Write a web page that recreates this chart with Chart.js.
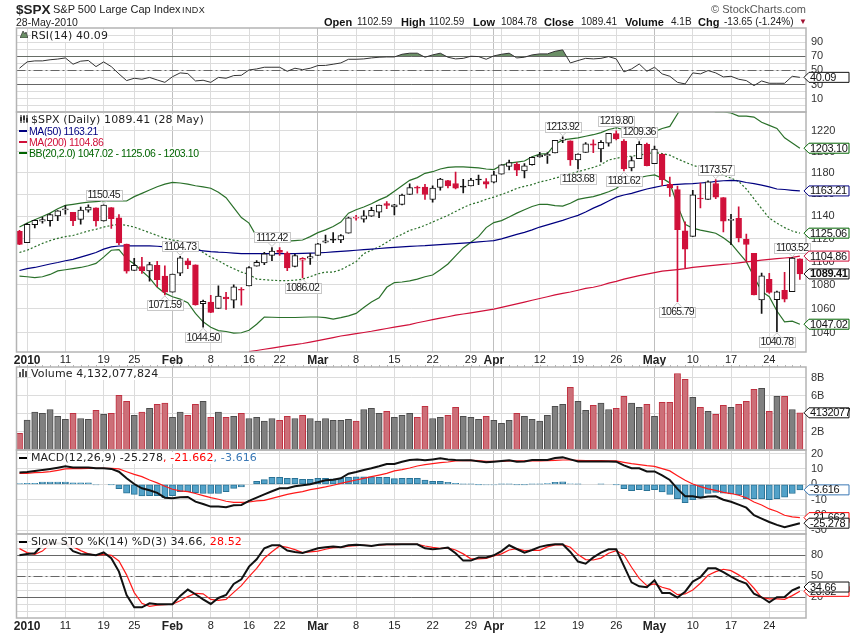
<!DOCTYPE html>
<html>
<head>
<meta charset="utf-8">
<title>$SPX</title>
<script src="https://cdn.jsdelivr.net/npm/chart.js@4"></script>
<style>
  html, body { margin: 0; padding: 0; background: #fff; overflow: hidden; width: 850px; height: 633px; }
  canvas { position: absolute; left: 0; }
  .txt { position: absolute; white-space: nowrap; font-family: "Liberation Sans", Arial, sans-serif; color: #222; line-height: 12px; z-index: 5; }
  .leg { font-family: "DejaVu Sans", sans-serif; font-size: 11px; letter-spacing: 0.12px; background: rgba(255,255,255,0.9); }
  .ma { font-size: 10.5px; letter-spacing: -0.4px; background: rgba(255,255,255,0.85); }
  .sw { position: absolute; left: 19px; width: 8px; height: 2px; z-index: 6; }
  .icon { position: absolute; z-index: 6; }
  b { color: #111; }
</style>
</head>
<body>
<div class="txt" style="left:16px;top:3px;font-size:13.5px;font-weight:900;line-height:13px">$SPX</div>
<div class="txt" style="left:53px;top:3px;font-size:11px">S&amp;P 500 Large Cap Index</div>
<div class="txt" style="left:182px;top:4px;font-size:9px;letter-spacing:0.4px">INDX</div>
<div class="txt" style="left:16px;top:16px;font-size:10.5px">28-May-2010</div>
<div class="txt" style="right:44px;top:3px;font-size:11px;color:#555">© StockCharts.com</div>
<div class="txt" style="left:324px;top:16px;font-size:11px"><b>Open</b></div>
<div class="txt" style="left:357px;top:16px;font-size:10px">1102.59</div>
<div class="txt" style="left:401px;top:16px;font-size:11px"><b>High</b></div>
<div class="txt" style="left:429px;top:16px;font-size:10px">1102.59</div>
<div class="txt" style="left:473px;top:16px;font-size:11px"><b>Low</b></div>
<div class="txt" style="left:501px;top:16px;font-size:10px">1084.78</div>
<div class="txt" style="left:544px;top:16px;font-size:11px"><b>Close</b></div>
<div class="txt" style="left:581px;top:16px;font-size:10px">1089.41</div>
<div class="txt" style="left:625px;top:16px;font-size:11px"><b>Volume</b></div>
<div class="txt" style="left:671px;top:16px;font-size:10px">4.1B</div>
<div class="txt" style="left:698px;top:16px;font-size:11px"><b>Chg</b></div>
<div class="txt" style="left:724px;top:16px;font-size:10px">-13.65 (-1.24%)</div>
<div class="txt" style="left:799px;top:16px;font-size:8px;color:#a01030">▼</div>

<svg class="icon" style="left:20px;top:30px" width="8" height="8"><path d="M0 8 L3 1 L5 4 L6 2 L8 8 Z" fill="#6b8f66" stroke="#333" stroke-width="0.7"/></svg>
<div class="txt leg" style="left:31px;top:30px">RSI(14) 40.09</div>
<svg class="icon" style="left:20px;top:115px" width="8" height="8"><path d="M1 0V8M4 0V8M7 0V8" stroke="#111" stroke-width="1"/><path d="M0 2H2V6H0ZM3 1H5V5H3ZM6 3H8V7H6Z" fill="#333"/></svg>
<div class="txt leg" style="left:31px;top:114px">$SPX (Daily) 1089.41 (28 May)</div>
<div class="sw" style="top:130px;background:#000080"></div>
<div class="txt ma" style="left:29px;top:125px;color:#000080">MA(50) 1163.21</div>
<div class="sw" style="top:141px;background:#d0103a"></div>
<div class="txt ma" style="left:29px;top:136px;color:#d0103a">MA(200) 1104.86</div>
<div class="sw" style="top:152px;background:#006400"></div>
<div class="txt ma" style="left:29px;top:147px;color:#006400">BB(20,2.0) 1047.02 - 1125.06 - 1203.10</div>
<svg class="icon" style="left:19px;top:369px" width="9" height="8"><path d="M0 3H2V8H0ZM3 0H5V8H3ZM6 2H8V8H6Z" fill="#555"/></svg>
<div class="txt leg" style="left:31px;top:368px">Volume 4,132,077,824</div>
<div class="sw" style="top:457px;background:#000"></div>
<div class="txt leg" style="left:31px;top:452px">MACD(12,26,9) -25.278<span style="color:#f00">, -21.662</span><span style="color:#3a78b5">, -3.616</span></div>
<div class="sw" style="top:541px;background:#000"></div>
<div class="txt leg" style="left:31px;top:536px">Slow STO %K(14) %D(3) 34.66, <span style="color:#f00">28.52</span></div>

<canvas id="rsiChart"></canvas>
<canvas id="priceChart"></canvas>
<canvas id="volumeChart"></canvas>
<canvas id="macdChart"></canvas>
<canvas id="stoChart"></canvas>

<script>
// Trading days shown on the chart
const dates = ['Dec 31',
  'Jan 4','Jan 5','Jan 6','Jan 7','Jan 8','Jan 11','Jan 12','Jan 13','Jan 14','Jan 15','Jan 19','Jan 20','Jan 21','Jan 22','Jan 25','Jan 26','Jan 27','Jan 28','Jan 29',
  'Feb 1','Feb 2','Feb 3','Feb 4','Feb 5','Feb 8','Feb 9','Feb 10','Feb 11','Feb 12','Feb 16','Feb 17','Feb 18','Feb 19','Feb 22','Feb 23','Feb 24','Feb 25','Feb 26',
  'Mar 1','Mar 2','Mar 3','Mar 4','Mar 5','Mar 8','Mar 9','Mar 10','Mar 11','Mar 12','Mar 15','Mar 16','Mar 17','Mar 18','Mar 19','Mar 22','Mar 23','Mar 24','Mar 25','Mar 26','Mar 29','Mar 30','Mar 31',
  'Apr 1','Apr 5','Apr 6','Apr 7','Apr 8','Apr 9','Apr 12','Apr 13','Apr 14','Apr 15','Apr 16','Apr 19','Apr 20','Apr 21','Apr 22','Apr 23','Apr 26','Apr 27','Apr 28','Apr 29','Apr 30',
  'May 3','May 4','May 5','May 6','May 7','May 10','May 11','May 12','May 13','May 14','May 17','May 18','May 19','May 20','May 21','May 24','May 25','May 26','May 27','May 28'];

// X axis ticks
const tickDates = ['Jan 4','Jan 11','Jan 19','Jan 25','Feb 1','Feb 8','Feb 16','Feb 22','Mar 1','Mar 8','Mar 15','Mar 22','Mar 29','Apr 1','Apr 5','Apr 12','Apr 19','Apr 26','May 3','May 10','May 17','May 24'];
const tickLabels = ['2010','11','19','25','Feb','8','16','22','Mar','8','15','22','29','Apr','','12','19','26','May','10','17','24'];
const monthTicks = ['2010','Feb','Mar','Apr','May'];

// Price candles
const opens = [1126.60,1116.56,1132.66,1135.71,1136.27,1140.52,1145.96,1143.81,1137.31,1145.68,1147.72,1136.03,1147.95,1138.68,1115.49,1092.40,1095.80,1091.94,1096.93,1087.61,
  1073.89,1090.05,1100.67,1097.25,1064.12,1065.51,1060.06,1069.68,1067.10,1075.95,1079.13,1096.14,1099.03,1105.49,1110.00,1107.49,1095.89,1101.24,1103.10,
  1105.36,1117.01,1119.36,1119.12,1125.12,1138.40,1137.56,1140.22,1143.96,1151.71,1148.53,1150.83,1159.94,1166.13,1166.68,1155.35,1166.47,1172.70,1170.03,1167.58,1167.71,1173.75,1171.75,
  1171.23,1178.71,1186.01,1188.23,1181.75,1187.47,1194.94,1195.94,1198.69,1210.77,1210.17,1192.06,1199.04,1207.16,1202.52,1207.87,1217.07,1209.92,1184.59,1193.30,1206.77,
  1188.58,1197.50,1169.24,1164.38,1127.04,1122.27,1156.39,1155.43,1170.04,1157.19,1136.52,1138.21,1119.57,1107.34,1067.26,1084.78,1067.42,1075.51,1074.27,1102.59];
const highs = [1127.64,1133.87,1136.63,1139.19,1142.46,1145.39,1149.74,1143.81,1148.40,1150.41,1147.77,1150.45,1147.95,1141.58,1115.49,1102.97,1103.69,1099.51,1100.22,1096.45,
  1089.38,1104.73,1102.72,1097.25,1067.13,1071.20,1079.28,1073.67,1080.04,1077.81,1095.67,1101.03,1108.24,1112.42,1112.29,1108.58,1106.42,1103.50,1107.24,
  1116.11,1123.46,1125.64,1123.73,1139.38,1141.05,1145.37,1148.26,1150.24,1153.41,1150.98,1160.28,1169.84,1167.77,1169.20,1167.82,1174.72,1173.04,1180.69,1173.93,1174.85,1177.83,1174.56,
  1181.43,1187.73,1191.80,1189.60,1188.55,1194.66,1199.20,1199.04,1210.65,1213.92,1210.17,1197.87,1208.58,1210.99,1210.27,1217.28,1219.80,1211.38,1195.05,1209.36,1207.99,
  1205.13,1197.50,1175.95,1167.58,1135.13,1163.85,1170.48,1172.58,1173.57,1157.19,1141.88,1148.66,1124.27,1107.34,1090.16,1089.95,1074.75,1090.75,1103.52,1102.59];
const lows = [1114.81,1116.56,1129.66,1133.95,1131.32,1136.22,1142.02,1131.77,1133.18,1143.80,1131.39,1135.77,1129.25,1114.84,1090.18,1092.40,1089.86,1083.11,1078.46,1071.59,
  1073.89,1087.96,1093.97,1062.78,1044.50,1056.51,1060.06,1059.34,1060.59,1062.97,1079.13,1096.14,1097.48,1100.80,1105.38,1092.18,1095.50,1086.02,1097.56,
  1105.36,1116.51,1116.58,1116.66,1125.12,1136.77,1134.90,1140.09,1138.99,1146.97,1141.45,1150.35,1159.94,1161.16,1155.33,1152.88,1163.83,1166.01,1165.09,1161.48,1167.71,1168.92,1165.77,
  1170.69,1178.71,1182.77,1177.25,1175.12,1187.15,1194.71,1188.82,1198.69,1208.50,1186.77,1183.68,1199.04,1198.85,1190.19,1205.10,1211.07,1181.62,1181.81,1193.30,1186.32,
  1188.58,1168.12,1158.15,1065.79,1094.15,1122.27,1147.71,1155.43,1156.14,1126.14,1114.96,1117.20,1100.66,1071.58,1055.90,1072.70,1040.78,1065.59,1074.27,1084.78];
const closes = [1115.10,1132.99,1136.52,1137.14,1141.69,1144.98,1146.98,1136.22,1145.68,1148.46,1136.03,1150.23,1138.04,1116.48,1091.76,1096.78,1092.17,1097.50,1084.53,1073.87,
  1089.19,1103.32,1097.28,1063.11,1066.19,1056.74,1070.52,1068.13,1078.47,1075.51,1094.87,1099.51,1106.75,1109.17,1108.01,1094.60,1105.24,1102.94,1104.49,
  1115.71,1118.31,1118.79,1122.97,1138.70,1138.50,1140.45,1145.61,1150.24,1149.99,1150.51,1159.46,1166.21,1165.83,1159.90,1165.81,1174.17,1167.72,1165.73,1166.59,1173.22,1173.27,1169.43,
  1178.10,1187.44,1189.44,1182.45,1186.44,1194.37,1196.48,1197.30,1210.65,1211.67,1192.13,1197.52,1207.17,1205.94,1208.67,1217.28,1212.05,1183.71,1191.36,1206.78,1186.69,
  1202.26,1173.60,1165.87,1128.15,1110.88,1159.73,1155.79,1171.67,1157.44,1135.68,1136.94,1120.80,1115.05,1071.59,1087.69,1073.65,1074.03,1067.95,1103.06,1089.41];
const closeBeforeFirst = 1126.20;

// Price overlays
const ma50 = [1092.4,1094,1095,1096.5,1098,1099.3,1100.8,1102,1104,1106,1108,1111,1113,1113.7,1113.8,1113.9,1113.9,1113.8,1113.5,1113,
  1112.5,1112,1111.5,1110.3,1109.5,1108.8,1108.3,1108,1107.5,1107,1107,1107,1107,1107,1107,1107.1,1107.1,1107.2,1107.4,
  1107.6,1108,1108.5,1109,1109.5,1110,1110.5,1111,1111.5,1112,1112.5,1113,1113.4,1113.7,1114,1114.5,1115,1115.4,1115.8,1116.2,1116.7,1117.3,1117.9,
  1118.5,1120,1122,1124,1125.8,1128,1130.5,1132.5,1134.5,1136.5,1138.8,1141,1144,1147.5,1150.5,1154,1157.5,1159.5,1161,1163,1165,
  1166.5,1168,1168.7,1169.2,1169.7,1170,1170.5,1171,1172,1172.6,1173,1172.5,1171,1170,1168.5,1167,1165,1164.5,1163.8,1163.21];
const ma200 = [null,null,null,null,null,null,null,null,null,null,null,null,null,null,null,null,null,null,null,null,
  null,null,null,null,null,null,null,null,null,null,1024.6,1025.5,1026.5,1027.5,1028.5,1029.5,1030.3,1031.2,1032.3,
  1033.5,1034.7,1036,1037.3,1038.3,1039.2,1040.2,1041.2,1042.4,1043.5,1044.6,1045.7,1046.7,1048.2,1049.5,1050.8,1052,1053.2,1054.5,1055.5,1056.5,1057.5,1058.5,
  1059.5,1061,1062.5,1064,1065.5,1067,1068.5,1070,1071.5,1072.8,1074,1075.5,1077,1078,1079.5,1081.5,1083,1085,1086.5,1088,1089.2,
  1090.5,1091.8,1092.5,1093.2,1094,1095,1095.7,1096.3,1097,1097.6,1098.2,1099,1099.8,1100.5,1101.3,1102,1102.6,1103.2,1103.8,1104.86];
const bbUpper = [1130.5,1134,1137,1140,1143,1147,1150,1151,1152,1153,1153.5,1154,1154,1154,1154,1158,1161,1164,1167,1169.5,
  1171,1170.5,1169.5,1168,1167,1165.7,1162,1157,1148,1139,1134,1122,1118,1117.5,1117.5,1118,1118.5,1119,1122,
  1125.5,1128,1131,1135,1143,1146,1148.5,1151.5,1155,1158,1163,1168,1173,1175.5,1179.5,1181,1183.5,1185,1185.5,1185.5,1185,1184.5,1183.5,
  1183,1187,1189,1190,1191,1195,1197.5,1198,1207,1211,1212,1213,1214.5,1216,1218,1221,1222.5,1221,1219,1218,1217.5,
  1219,1222,1224,1236,1248,1254,1250,1241,1238,1238,1237,1234,1234,1233,1228,1225,1222,1213,1208,1203.1];
const bbMiddle = [1108,1110,1113,1116,1118.5,1120.5,1122,1123,1125,1127,1128.5,1130.5,1132,1133,1132,1130.5,1128,1125.5,1123,1120.5,
  1119,1118,1116,1113,1108,1104,1101,1097,1094,1091,1089,1085,1084.5,1084,1083.7,1083.7,1084,1085,1087,
  1089.5,1091,1091,1093,1096.5,1100,1107,1110,1113,1117,1121,1124,1127.5,1129.5,1132,1135,1138,1141,1144.5,1148,1151,1153,1155.5,
  1157.5,1160,1162.5,1165.5,1167.5,1169,1171.5,1173,1175,1177,1179,1181,1183,1185,1187.5,1192,1193.5,1195,1195.5,1196.5,1198,
  1199,1198,1196.5,1193,1190,1187,1185,1182.5,1180,1178,1175,1172,1165,1156,1147,1138.5,1134,1130,1127,1125.06];
const bbLower = [1087.5,1087,1086.3,1087,1089,1092,1093,1094,1095,1096.5,1098.5,1104,1110,1110.5,1102.5,1098,1092,1086,1078,1073,
  1070,1068,1065,1056,1049,1044.5,1041.8,1041,1039.7,1040,1042,1047,1053,1052.8,1052.6,1052.6,1052.6,1052.8,1053,
  1053,1052.5,1051.2,1052.5,1054,1056,1061,1065.5,1069,1078,1082,1082.5,1083.5,1085,1087,1088.5,1093,1098,1105,1112,1117,1122,1130,
  1134.5,1136.3,1139.5,1143,1146,1149,1151,1151,1149.8,1149.4,1152,1155.5,1156.8,1158,1160,1162.5,1165.5,1171,1173,1175.5,1177,
  1178,1175,1170.5,1150,1133,1129.5,1127.8,1126.5,1125,1121,1116,1108,1100,1087,1074.5,1070,1058,1049,1049.5,1047.02];

// Peak and trough labels on the price panel
const calloutDates = ['Jan 19','Feb 2','Feb 19','Apr 15','Apr 29','Apr 26','May 13','May 27','Jan 29','Feb 5','Feb 25','Apr 19','Apr 27','May 6','May 25'];
const calloutValues = [1150.45,1104.73,1112.42,1213.92,1209.36,1219.80,1173.57,1103.52,1071.59,1044.50,1086.02,1183.68,1181.62,1065.79,1040.78];
const calloutAbove = [true,true,true,true,true,true,true,true,false,false,false,false,false,false,false];

// Indicators
const rsi = [53,62,63.4,63.4,65,66,67.6,58.7,63,64,55.3,62,55.3,45,35.5,38.8,37.4,40,36.4,33,
  41,46.4,45.4,35,36,33,40,38.8,42.6,43,50.6,52,54.4,54.4,54.4,48.7,53,51,53,
  56.8,57,58.7,60.5,65.7,65.7,66.2,67.6,68.6,69,69,72.8,74.3,74.3,68.6,71.9,74.3,68.6,66.2,67,70,69.5,65.7,
  70.5,72.8,74.3,67.6,68.6,71.9,73.3,73.3,77,79,60.5,63.9,67,66.2,67,69.5,66.2,47.8,52,59,48.7,
  54.4,45,41.6,33,30.8,46.4,45,49.7,46.4,40.7,41.6,37.4,35.5,28.4,35,31.7,31.7,31.7,41.6,40.09];
const volume = [1.85,3.33,4.2,4.07,4.5,3.74,3.4,4.07,3.5,3.4,4.4,3.96,4.07,6.07,5.4,3.85,4.2,4.63,5.07,5.2,
  3.63,4.2,3.85,5.07,5.4,3.63,4.2,3.63,3.74,4.07,3.5,3.63,3.2,3.5,3.3,3.74,3.5,3.85,3.5,
  3.2,3.5,3.3,3.3,3.4,3.2,4.5,4.63,4.07,4.3,3.63,3.85,4.07,3.63,4.85,3.5,3.63,3.85,4.74,3.74,3.63,3.4,3.74,
  3.3,2.96,3.3,4.07,3.74,3.4,3.2,3.85,4.85,5.07,6.96,5.4,4.4,4.96,5.2,4.5,4.63,5.96,5.2,4.74,5.07,
  3.74,5.3,5.3,8.5,7.85,5.85,4.74,4.3,3.96,4.96,4.74,5.07,5.4,6.74,6.85,4.3,5.96,5.96,4.5,4.13];
const macdLine = [7.6,8,8.7,9.3,10,10.8,11.7,11,11,11,10.4,10.4,10,8.2,3.9,0.2,-2.6,-3.9,-5.6,-8.7,
  -9.1,-8.4,-8.2,-11.3,-12.8,-14.5,-14.5,-14.9,-13.6,-13.4,-10.8,-8.7,-6.5,-4.5,-2.6,-2.6,-1.3,-0.6,0,
  1.3,2.6,3,3.9,6.9,8,9.3,10.4,11.7,13.2,13.2,14.7,15.8,16.2,15.6,16.2,16.9,16.2,15.8,15.6,15.6,14.9,14.3,
  14.7,15.2,15.6,14.7,14.9,15.8,15.8,15.8,17.1,17.5,16.2,14.9,14.9,14.9,14.9,14.9,14.7,12.3,10.4,10.4,8.4,
  8.4,5.8,2.8,-3,-7.8,-7.8,-8.7,-8,-7.8,-10,-11.3,-13.2,-15.2,-20.1,-22.3,-24.5,-26.4,-27.9,-26.6,-25.278];
const macdSignal = [7.1,7.1,7.6,7.8,8.2,9.1,10,10.2,10.2,10.4,10.4,10.4,10.4,10,8.2,6.5,5,2.8,0.9,-1.3,
  -3.2,-4.3,-4.8,-6,-7.4,-8.7,-9.7,-11,-11.7,-11.7,-11.5,-10.8,-10.4,-9.1,-7.8,-6.5,-5.6,-4.8,-3.5,
  -2.6,-1.7,-0.6,0.6,1.7,2.8,3.9,5,6,7.1,8.7,9.5,10.6,11.9,12.8,13.4,14.1,14.5,15.2,15.4,15.6,15.4,14.9,
  14.9,14.9,15.2,15.2,15.2,15.2,15.2,15.4,15.6,15.8,15.8,15.6,15.4,15.4,15.4,15.2,15.2,14.3,13.4,12.8,12.1,
  11.7,10.2,8.7,5.6,2.6,0.2,-1.5,-3,-3.9,-5.2,-6,-7.1,-8.7,-11.5,-13.4,-16,-17.7,-20.1,-21.2,-21.662];
const macdHist = [0.4,0.6,0.6,1.5,1.5,1.5,1.5,0.9,0.9,0.9,-0.4,0,-0.2,-2.8,-5.8,-6.5,-7.6,-7.4,-7.4,-8.7,
  -7.4,-4.8,-4.8,-5.4,-6,-6,-6,-4.8,-2.6,-1.7,0,1.9,3,4.5,4.5,3.9,3.9,3.2,3.2,
  3.9,3.9,3.5,3.9,4.5,4.8,4.8,4.8,4.5,4.5,3.7,3.9,3.9,3.9,2.8,1.9,1.9,1.3,0.6,0.1,0.1,-0.1,-0.4,
  -0.4,0.1,0.1,-0.2,-0.2,0.1,0.1,0.5,1.3,1.6,0.2,0.1,0,0,0.1,0,-0.1,-2.8,-4.1,-3.5,-4.1,
  -3.5,-5,-6.5,-9.3,-11.9,-10,-8.2,-6,-5.2,-5.8,-6.3,-6.9,-9.3,-9.3,-9.5,-10,-9.3,-8.4,-6,-3.616];
const stoK = [80,82,83,95,98,97,97,86,82,81.5,80,84,75.7,56.7,23.3,5.7,5.7,11.4,10,10,
  10,22,31,24.3,17,10.5,19,23.3,39,45.7,63.8,74.3,90,94.3,94.3,86.7,84.8,83.3,86.7,
  90,91.4,92.4,91.4,94.3,95.2,94.3,93.3,95.2,95.7,95.7,95.7,95.7,95.7,90,88.6,89.5,91,82.9,72.4,72.4,76.7,77,
  80,86,94.3,89,83.8,87.6,92,94.3,95.7,95.7,84.8,71,68,77,83.8,88.6,88.6,64.8,41.4,35.7,34.3,
  44.3,26,26,19.5,28,42.4,48.6,61.4,61.4,56,49.5,43.8,39.5,25,20,12.9,20,20.5,30,34.66];
const stoD = [89.5,83.8,81.4,86,96,97,98,92.4,86.7,82,80,81.4,80,71.9,52,26.7,11.4,7,8.6,9.5,
  10,15,21,25.7,25,17,15.7,17,27,36.7,49.5,61.4,75.7,85,93.3,91.4,88,83.8,84.8,
  86,88.6,91,91.4,92.9,93.8,94.3,93.8,94.3,95.2,95.2,95.7,95.7,95.7,93.3,91.4,90,90.5,87.6,82,75,74.8,75.7,
  79,82,87.6,89.5,86.7,87,87,92,94.8,95.2,91.4,81,73.8,73.3,76,82.9,86.7,80.5,62.9,47,36.7,
  39,34.3,31.4,23.8,24.8,30.5,40,51.4,56.7,60,58,52,44.8,32.9,19.5,17.6,17.6,17,22.4,28.52];

const dayIndex = dates.map((d, i) => i);
const prevClose = i => (i === 0 ? closeBeforeFirst : closes[i - 1]);
const candleColor = closes.map((c, i) => (c >= prevClose(i) ? '#111111' : '#d0103a'));
const bodyFill = closes.map((c, i) => (c > opens[i] ? '#ffffff' : candleColor[i]));
const volumeFill = closes.map((c, i) => (c >= prevClose(i) ? '#808080' : '#cc6f78'));
const volumeBorder = closes.map((c, i) => (c >= prevClose(i) ? '#4d4d4d' : '#c03040'));

const xTickValues = tickDates.map(d => dates.indexOf(d));
const GRID = '#dcdcdc';
const GRID_DARK = '#bfbfbf';
const FONT = '"Liberation Sans", Arial, sans-serif';
const MARGIN = 16; // room around each plot so the axis labels don't shrink it

const tickText = c => (c.tick ? tickLabels[xTickValues.indexOf(c.tick.value)] : '');

function line(data, color, width, dash, extra) {
    return Object.assign({ type: 'line', data, borderColor: color, borderWidth: width, borderDash: dash || [],
        pointRadius: 0, tension: 0, fill: false, order: 3 }, extra || {});
}

// Arrow shaped value tag on the right edge of a panel
function drawTag(ctx, y, text, color, bold) {
    ctx.save();
    ctx.beginPath();
    ctx.moveTo(804, y);
    ctx.lineTo(809, y - 5);
    ctx.lineTo(849, y - 5);
    ctx.lineTo(849, y + 5);
    ctx.lineTo(809, y + 5);
    ctx.closePath();
    ctx.fillStyle = '#fff';
    ctx.fill();
    ctx.strokeStyle = color;
    ctx.lineWidth = 1;
    ctx.stroke();
    ctx.fillStyle = '#111';
    ctx.font = (bold ? 'bold ' : '') + '11px ' + FONT;
    ctx.letterSpacing = '-0.3px';
    ctx.textAlign = 'left';
    ctx.textBaseline = 'middle';
    ctx.fillText(text, 810, y + 0.5);
    ctx.restore();
}

function drawCallouts(chart) {
    const ctx = chart.ctx;
    const x = chart.scales.x, y = chart.scales.y;
    ctx.save();
    ctx.font = '10.5px ' + FONT;
    ctx.letterSpacing = '-0.7px';
    ctx.textAlign = 'center';
    ctx.textBaseline = 'middle';
    calloutDates.forEach((d, k) => {
        const px = x.getPixelForValue(dates.indexOf(d));
        const py = y.getPixelForValue(calloutValues[k]);
        const dir = calloutAbove[k] ? -1 : 1;
        const edge = py + dir * 5;
        const top = calloutAbove[k] ? edge - 10 : edge;
        ctx.strokeStyle = '#c8c8c8';
        ctx.lineWidth = 1;
        ctx.beginPath();
        ctx.moveTo(px - 4, edge);
        ctx.lineTo(px, py + dir);
        ctx.lineTo(px + 4, edge);
        ctx.stroke();
        ctx.fillStyle = '#fff';
        ctx.fillRect(px - 18, top, 36, 10);
        ctx.strokeRect(Math.round(px - 18) + 0.5, Math.round(top) + 0.5, 36, 10);
        ctx.fillStyle = '#222';
        ctx.fillText(calloutValues[k].toFixed(2), px, top + 5.5);
    });
    ctx.restore();
}

// Reference lines, panel frame and value tags, drawn through the panel's own scales
function panelPlugin(refLines, tags, callouts, dayTicks) {
    return {
        id: 'panelExtras',
        beforeDatasetsDraw(chart) {
            const ctx = chart.ctx, a = chart.chartArea, y = chart.scales.y;
            (refLines || []).forEach(r => {
                const py = Math.round(y.getPixelForValue(r.value)) + 0.5;
                ctx.save();
                ctx.strokeStyle = '#666';
                ctx.lineWidth = 1;
                ctx.setLineDash(r.dash || []);
                ctx.beginPath();
                ctx.moveTo(a.left, py);
                ctx.lineTo(a.right, py);
                ctx.stroke();
                ctx.restore();
            });
        },
        afterDraw(chart) {
            const ctx = chart.ctx, a = chart.chartArea, y = chart.scales.y;
            ctx.save();
            ctx.strokeStyle = '#b4b4b4';
            ctx.lineWidth = 1.5;
            ctx.strokeRect(a.left, a.top, a.right - a.left, a.bottom - a.top);
            if (dayTicks) {
                ctx.lineWidth = 1;
                ctx.beginPath();
                dayIndex.forEach(i => {
                    const px = Math.round(chart.scales.x.getPixelForValue(i)) + 0.5;
                    ctx.moveTo(px, a.top - 2);
                    ctx.lineTo(px, a.top);
                });
                ctx.stroke();
            }
            ctx.restore();
            if (callouts) drawCallouts(chart);
            (tags || []).forEach(t => drawTag(ctx, y.getPixelForValue(t.value), t.text, t.color, t.bold));
        }
    };
}

function makePanel(id, top, height, showDates, datasets, yOptions, refLines, tags, callouts, dayTicks) {
    const axisHeight = showDates ? 18 : MARGIN;
    const canvas = document.getElementById(id);
    canvas.style.top = (top - MARGIN) + 'px';
    canvas.width = 850;
    canvas.height = MARGIN + height + axisHeight;
    return new Chart(canvas.getContext('2d'), {
        type: 'bar',
        data: { labels: dayIndex, datasets },
        plugins: [panelPlugin(refLines, tags, callouts, dayTicks)],
        options: {
            responsive: false,
            animation: false,
            events: [],
            devicePixelRatio: 1,
            layout: { padding: { left: 16.5, top: MARGIN, right: 0, bottom: 0 } },
            plugins: { legend: { display: false }, tooltip: { enabled: false } },
            scales: {
                x: {
                    type: 'linear',
                    min: -0.39,
                    max: 102.8,
                    offset: false,
                    afterBuildTicks: axis => { axis.ticks = xTickValues.map(v => ({ value: v })); },
                    afterFit: axis => { axis.height = axisHeight; },
                    border: { display: false },
                    grid: {
                        offset: false,
                        tickLength: 0,
                        color: c => (['Feb', 'Mar', 'Apr', 'May'].includes(tickText(c)) ? GRID_DARK : GRID)
                    },
                    ticks: {
                        display: showDates,
                        autoSkip: false,
                        maxRotation: 0,
                        padding: 1,
                        color: '#222',
                        callback: v => tickLabels[xTickValues.indexOf(v)],
                        font: c => (monthTicks.includes(tickText(c))
                            ? { family: FONT, size: 12, weight: 'bold' }
                            : { family: FONT, size: 11 })
                    }
                },
                y: Object.assign({
                    position: 'right',
                    afterFit: axis => { axis.width = 44; },
                    afterBuildTicks: axis => { axis.ticks = yOptions.gridValues.map(v => ({ value: v })); },
                    border: { display: false },
                    grid: { color: GRID, tickLength: 0 },
                    ticks: {
                        padding: 5,
                        color: '#333',
                        autoSkip: false,
                        font: { family: FONT, size: 11 },
                        callback: v => (yOptions.labelValues.includes(v) ? yOptions.format(v) : '')
                    }
                }, yOptions.scale)
            }
        }
    });
}

const plain = v => String(v);
const dashDot = [9, 3, 2, 3];

// RSI panel
const rsiGrid = [100, 90, 80, 70, 60, 50, 40, 30, 20, 10, 0];
makePanel('rsiChart', 28, 84, false,
    [line(rsi, '#333333', 1, null, { fill: { target: { value: 70 }, above: '#6b8f66', below: 'rgba(0,0,0,0)' } })],
    { scale: { min: -9, max: 110 }, gridValues: rsiGrid, labelValues: [90, 70, 50, 30, 10], format: plain },
    [{ value: 70 }, { value: 50, dash: dashDot }, { value: 30 }],
    [{ value: 40.09, text: '40.09', color: '#111' }]);

// Price panel
const priceGrid = [1040, 1060, 1080, 1100, 1120, 1140, 1160, 1180, 1200, 1220];
makePanel('priceChart', 112, 240, true,
    [
        { type: 'bar', data: lows.map((l, i) => [l, highs[i]]), backgroundColor: candleColor, barThickness: 1, grouped: false, order: 2 },
        { type: 'bar', data: opens.map((o, i) => [Math.min(o, closes[i]), Math.max(o, closes[i])]), backgroundColor: bodyFill, borderColor: candleColor,
          borderWidth: 1, borderSkipped: false, barThickness: 5.8, minBarLength: 1, grouped: false, order: 1 },
        line(ma50, '#000080', 1.2),
        line(ma200, '#d0103a', 1.2),
        line(bbUpper, '#2a702a', 1.2),
        line(bbMiddle, '#2a702a', 1.2, [2, 2]),
        line(bbLower, '#2a702a', 1.2)
    ],
    { scale: { type: 'logarithmic', min: 1024.3, max: 1238 }, gridValues: priceGrid, labelValues: priceGrid, format: plain },
    [],
    [
        { value: 1203.10, text: '1203.10', color: '#006400' },
        { value: 1163.21, text: '1163.21', color: '#000080' },
        { value: 1125.06, text: '1125.06', color: '#006400' },
        { value: 1104.86, text: '1104.86', color: '#d0103a' },
        { value: 1089.41, text: '1089.41', color: '#111', bold: true },
        { value: 1047.02, text: '1047.02', color: '#006400' }
    ], true);

// Volume panel
makePanel('volumeChart', 367, 83, false,
    [{ type: 'bar', data: volume, backgroundColor: volumeFill, borderColor: volumeBorder, borderWidth: 1, borderSkipped: false, barThickness: 6.2, grouped: false }],
    { scale: { min: 0, max: 9.22 }, gridValues: [2, 4, 6, 8], labelValues: [2, 4, 6, 8], format: v => v + 'B' },
    [],
    [{ value: 4.13, text: '4132077', color: '#111' }], false, true);

// MACD panel
const macdGrid = [20, 10, 0, -10, -20, -30];
makePanel('macdChart', 450, 84, false,
    [
        { type: 'bar', data: macdHist, backgroundColor: '#52a2c9', borderColor: '#2a7396', borderWidth: 1, borderSkipped: false, barThickness: 6.2, grouped: false, order: 5 },
        line(macdSignal, '#ff1a1a', 1.2, null, { order: 2 }),
        line(macdLine, '#111111', 2, null, { order: 1 })
    ],
    { scale: { min: -32.3, max: 22.3 }, gridValues: macdGrid, labelValues: macdGrid, format: plain },
    [],
    [
        { value: -3.616, text: '-3.616', color: '#3a78b5' },
        { value: -21.662, text: '-21.662', color: '#ff0000' },
        { value: -25.278, text: '-25.278', color: '#111' }
    ]);

// Slow stochastic panel
const stoGrid = [100, 90, 80, 70, 60, 50, 40, 30, 20, 10, 0];
makePanel('stoChart', 534, 84, true,
    [
        line(stoD, '#ff1a1a', 1.2, null, { order: 2 }),
        line(stoK, '#111111', 2, null, { order: 1 })
    ],
    { scale: { min: -9.6, max: 110.4 }, gridValues: stoGrid, labelValues: [80, 50, 20], format: plain },
    [{ value: 80 }, { value: 50, dash: dashDot }, { value: 20 }],
    [
        { value: 28.52, text: '28.52', color: '#ff0000' },
        { value: 34.66, text: '34.66', color: '#111' }
    ]);
</script>
</body>
</html>
